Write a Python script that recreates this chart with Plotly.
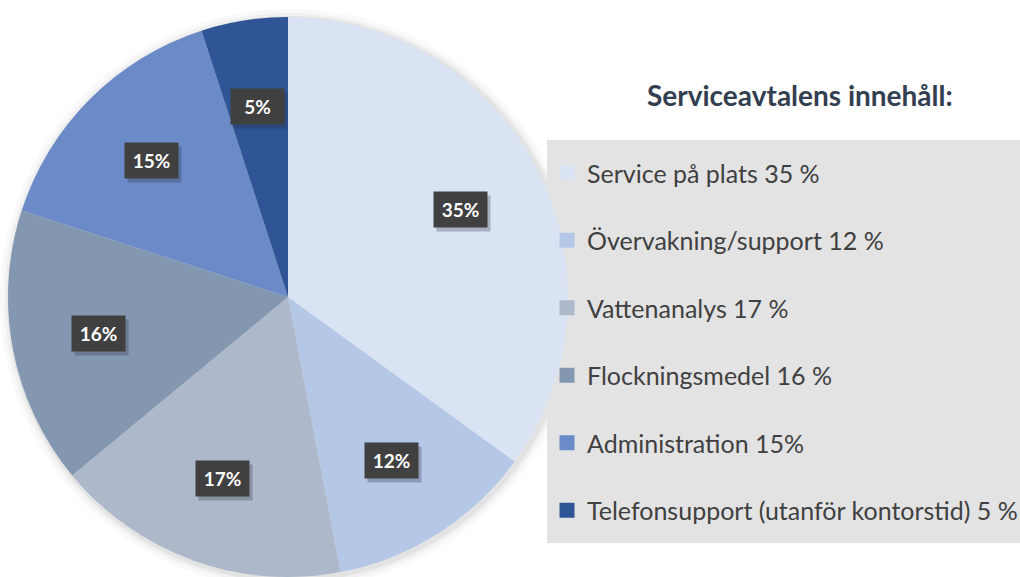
import math
import plotly.graph_objects as go

# Contents of the service agreement (share of total, %)
categories = [
    "Service på plats",
    "Övervakning/support",
    "Vattenanalys",
    "Flockningsmedel",
    "Administration",
    "Telefonsupport (utanför kontorstid)",
]
values = [35, 12, 17, 16, 15, 5]
legend_labels = [
    "Service på plats 35 %",
    "Övervakning/support 12 %",
    "Vattenanalys 17 %",
    "Flockningsmedel 16 %",
    "Administration 15%",
    "Telefonsupport (utanför kontorstid) 5 %",
]
colors = ["#DAE3F3", "#B4C7E7", "#ADB9CA", "#8497B0", "#6A8BC7", "#2F5597"]
title_text = "Serviceavtalens innehåll:"

W, H = 1020, 577
cx_px, cy_px, r_px = 288, 297, 280
dom_x = [(cx_px - r_px) / W, (cx_px + r_px) / W]
dom_y = [1 - (cy_px + r_px) / H, 1 - (cy_px - r_px) / H]

fig = go.Figure()

fig.add_trace(go.Pie(
    labels=categories,
    values=values,
    sort=False,
    direction="clockwise",
    rotation=0,
    marker=dict(colors=colors, line=dict(width=0)),
    textinfo="none",
    hoverinfo="label+percent",
    showlegend=False,
    domain=dict(x=dom_x, y=dom_y),
))

# Legend entries (square swatches) for each slice
for lab, col in zip(legend_labels, colors):
    fig.add_trace(go.Scatter(
        x=[None], y=[None], mode="markers",
        marker=dict(symbol="square", size=15, color=col),
        name=lab, legendgroup=lab, showlegend=True, hoverinfo="skip",
    ))

# Soft shadow around the pie
for k, a in [(10, 0.025), (6, 0.035), (3, 0.05)]:
    fig.add_shape(
        type="circle", xref="paper", yref="paper", layer="below",
        x0=(cx_px - r_px - k + 2) / W, x1=(cx_px + r_px + k + 2) / W,
        y0=1 - (cy_px + r_px + k + 2) / H, y1=1 - (cy_px - r_px - k + 2) / H,
        fillcolor=f"rgba(0,0,0,{a})", line=dict(width=0),
    )

# Grey panel behind the legend
fig.add_shape(
    type="rect", xref="paper", yref="paper", layer="below",
    x0=547 / W, x1=1.0, y0=1 - 543 / H, y1=1 - 140 / H,
    fillcolor="#E3E3E3", line=dict(width=0),
)

# Percentage labels in dark boxes, placed along each slice's mid-angle
total = sum(values)
cum = 0
label_r = 0.69 * r_px
for v in values:
    mid = (cum + v / 2) / total * 2 * math.pi
    cum += v
    lx = cx_px + label_r * math.sin(mid)
    ly = cy_px - label_r * math.cos(mid)
    # drop shadow
    fig.add_annotation(
        x=(lx + 3) / W, y=1 - (ly + 4) / H, xref="paper", yref="paper",
        xanchor="center", yanchor="middle",
        text=" ", showarrow=False, width=53, height=35,
        bgcolor="rgba(40,40,60,0.28)", borderpad=0,
    )
    fig.add_annotation(
        x=lx / W, y=1 - ly / H, xref="paper", yref="paper",
        xanchor="center", yanchor="middle",
        text=f"<b>{v}%</b>", showarrow=False, width=53, height=35,
        bgcolor="#404040", borderpad=0,
        font=dict(family="Lato, Open Sans, sans-serif", size=19, color="white"),
    )

fig.add_annotation(
    x=800 / W, y=1 - 95 / H, xref="paper", yref="paper",
    xanchor="center", yanchor="middle",
    text=f"<b>{title_text}</b>", showarrow=False,
    font=dict(family="Lato, Open Sans, sans-serif", size=28, color="#333F50"),
)

fig.update_layout(
    width=W, height=H,
    margin=dict(l=0, r=0, t=0, b=0, autoexpand=False),
    paper_bgcolor="white", plot_bgcolor="white",
    xaxis=dict(visible=False), yaxis=dict(visible=False),
    legend=dict(
        x=547 / W, y=1 - 150 / H, xanchor="left", yanchor="top",
        bgcolor="rgba(0,0,0,0)", borderwidth=0,
        font=dict(family="Lato, Open Sans, sans-serif", size=25, color="#404040"),
        tracegroupgap=32, itemwidth=30,
    ),
)

fig.write_html("out.html")
